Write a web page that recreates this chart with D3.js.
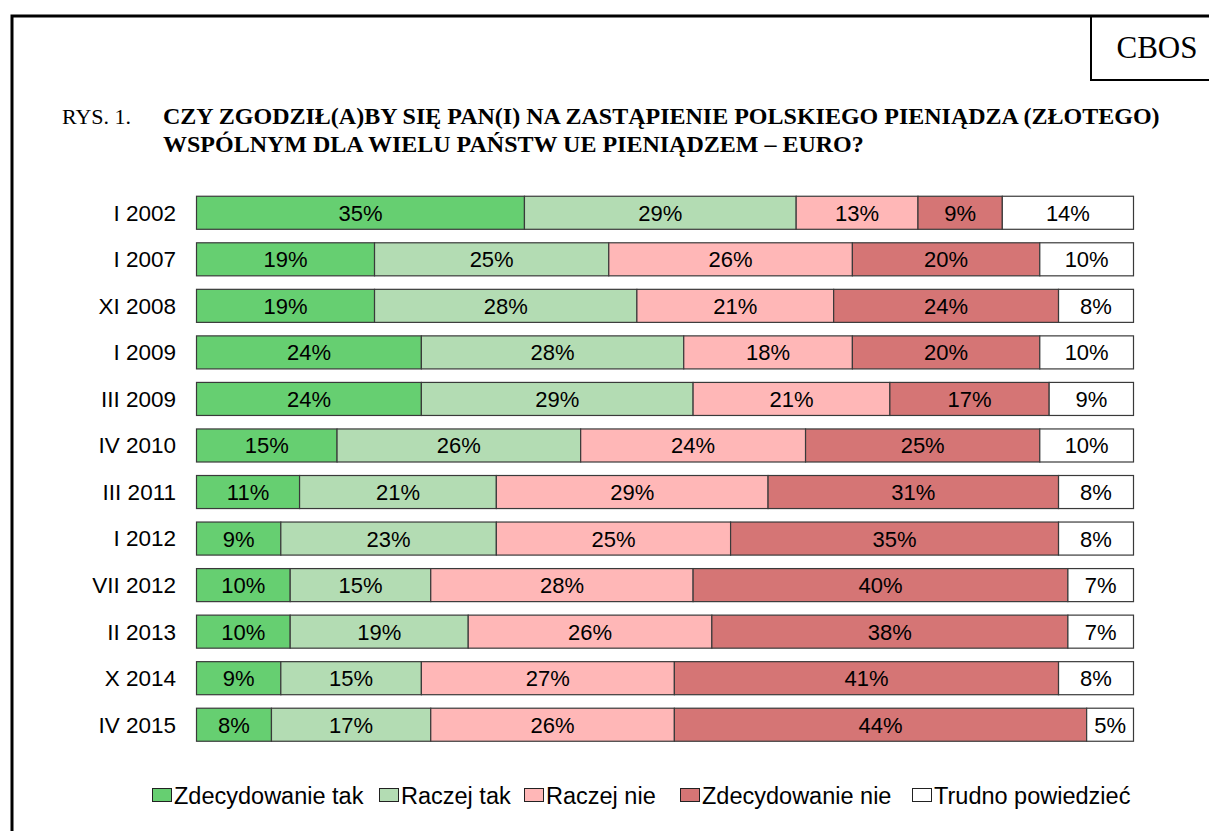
<!DOCTYPE html>
<html>
<head>
<meta charset="utf-8">
<script src="https://cdn.jsdelivr.net/npm/d3@7"></script>
<style>
  body { margin: 0; background: #fff; }
  svg { display: block; }
</style>
</head>
<body>
<svg id="chart"></svg>
<script>
var w = 1209;
var h = 831;

var periods = ["I 2002", "I 2007", "XI 2008", "I 2009", "III 2009", "IV 2010",
               "III 2011", "I 2012", "VII 2012", "II 2013", "X 2014", "IV 2015"];
var answers = ["Zdecydowanie tak", "Raczej tak", "Raczej nie", "Zdecydowanie nie", "Trudno powiedzieć"];
var colors = ["#66cf71", "#b3dcb3", "#ffb7b7", "#d57575", "#ffffff"];

var zdecTak   = [35, 19, 19, 24, 24, 15, 11, 9, 10, 10, 9, 8];
var raczejTak = [29, 25, 28, 28, 29, 26, 21, 23, 15, 19, 15, 17];
var raczejNie = [13, 26, 21, 18, 21, 24, 29, 25, 28, 26, 27, 26];
var zdecNie   = [9, 20, 24, 20, 17, 25, 31, 35, 40, 38, 41, 44];
var trudno    = [14, 10, 8, 10, 9, 10, 8, 8, 7, 7, 8, 5];

var series = [zdecTak, raczejTak, raczejNie, zdecNie, trudno];

var svg = d3.select("#chart")
  .attr("width", w)
  .attr("height", h)
  .attr("viewBox", [0, 0, w, h]);

var serif = "'Liberation Serif', 'Times New Roman', serif";
var sans = "'Liberation Sans', Arial, sans-serif";

// frame
svg.append("path")
  .attr("d", "M12,831 V16 H1209")
  .attr("fill", "none")
  .attr("stroke", "#000")
  .attr("stroke-width", 3);
svg.append("path")
  .attr("d", "M1091,16 V80 H1209")
  .attr("fill", "none")
  .attr("stroke", "#000")
  .attr("stroke-width", 2);
svg.append("text")
  .attr("x", 1157).attr("y", 58)
  .attr("text-anchor", "middle")
  .style("font-family", serif)
  .style("font-size", "31px")
  .text("CBOS");

// title
svg.append("text")
  .attr("x", 62).attr("y", 124)
  .style("font-family", serif)
  .style("font-size", "22px")
  .text("RYS. 1.");
svg.append("text")
  .attr("x", 163).attr("y", 124)
  .style("font-family", serif)
  .style("font-size", "24px")
  .style("font-weight", "bold")
  .text("CZY ZGODZIŁ(A)BY SIĘ PAN(I) NA ZASTĄPIENIE POLSKIEGO PIENIĄDZA (ZŁOTEGO)");
svg.append("text")
  .attr("x", 163).attr("y", 152)
  .style("font-family", serif)
  .style("font-size", "24px")
  .style("font-weight", "bold")
  .text("WSPÓLNYM DLA WIELU PAŃSTW UE PIENIĄDZEM – EURO?");

// scales
var x = d3.scaleLinear().domain([0, 100]).range([196.5, 1133.5]);
var y = d3.scaleBand().domain(periods).range([189.5, 748]).paddingInner(0.29).paddingOuter(0.145);

var rows = periods.map(function (p, i) {
  var acc = 0;
  return series.map(function (s, k) {
    var seg = {period: p, key: k, value: s[i], x0: acc, x1: acc + s[i]};
    acc += s[i];
    return seg;
  });
});

var bars = svg.append("g");
rows.forEach(function (segs) {
  var g = bars.append("g");
  g.selectAll("rect")
    .data(segs)
    .enter()
    .append("rect")
    .attr("x", d => x(d.x0))
    .attr("y", d => y(d.period))
    .attr("width", d => x(d.x1) - x(d.x0))
    .attr("height", y.bandwidth())
    .attr("fill", d => colors[d.key])
    .attr("stroke", "#3a3a3a")
    .attr("stroke-width", 1.2);
  g.selectAll("text")
    .data(segs)
    .enter()
    .append("text")
    .attr("x", d => (x(d.x0) + x(d.x1)) / 2)
    .attr("y", d => y(d.period) + y.bandwidth() / 2 + 8)
    .attr("text-anchor", "middle")
    .style("font-family", sans)
    .style("font-size", "22px")
    .style("fill", "#000")
    .text(d => d.value + "%");
});

// category axis
var yAxis = svg.append("g")
  .attr("transform", "translate(176,0)")
  .call(d3.axisLeft(y).tickSize(0).tickPadding(0));
yAxis.select(".domain").remove();
yAxis.selectAll("text")
  .style("font-family", sans)
  .style("font-size", "22.5px")
  .style("fill", "#000")
  .attr("dy", "0.35em");

// legend
var legendX = [152, 379, 524, 680, 912];
var legend = svg.append("g");
answers.forEach(function (a, k) {
  var item = legend.append("g").attr("transform", "translate(" + legendX[k] + ",788)");
  item.append("rect")
    .attr("x", 0.5).attr("y", 0.5)
    .attr("width", 19).attr("height", 13)
    .attr("fill", colors[k])
    .attr("stroke", "#222")
    .attr("stroke-width", 1);
  item.append("text")
    .attr("x", 22).attr("y", 16)
    .style("font-family", sans)
    .style("font-size", "23.5px")
    .style("fill", "#000")
    .text(a);
});
</script>
</body>
</html>
